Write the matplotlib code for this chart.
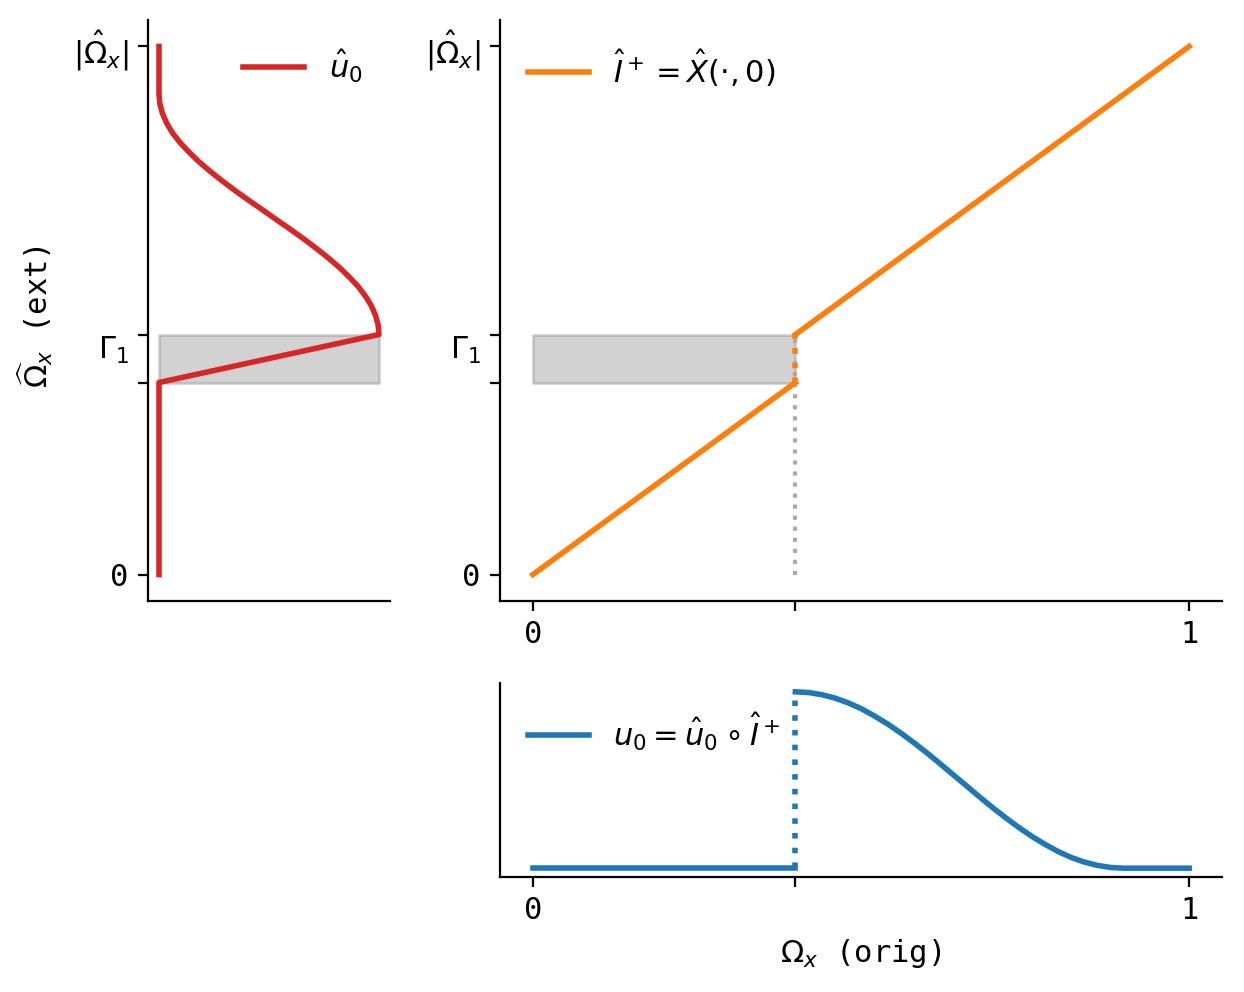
import numpy as np
import matplotlib
matplotlib.use("Agg")
import matplotlib.pyplot as plt

plt.rcParams['font.family'] = ['DejaVu Sans Mono']
plt.rcParams['font.size'] = 11
plt.rcParams['legend.fontsize'] = 11
plt.rcParams['mathtext.fontset'] = 'dejavusans'

# ---- data ----
split_orig = 0.4          # interface position in original coordinate
gap = 0.1                 # inserted extension width (Gamma_1 band)
ext_len = 1.1             # |Omega_hat_x|
orig_len = 1.0

# sampled bump of u_hat_0 on the extended coordinate (peak at Gamma_1 top)
bump_y = [0.50, 0.52, 0.54, 0.56, 0.58, 0.60, 0.62, 0.64, 0.66, 0.68, 0.70,
          0.72, 0.74, 0.76, 0.78, 0.80, 0.82, 0.84, 0.86, 0.88, 0.90, 0.92,
          0.94, 0.96, 0.98, 1.00]
bump_u = [1.000, 0.996, 0.984, 0.965, 0.938, 0.905, 0.864, 0.819, 0.768,
          0.713, 0.655, 0.594, 0.531, 0.469, 0.406, 0.345, 0.287, 0.232,
          0.181, 0.136, 0.095, 0.061, 0.035, 0.016, 0.004, 0.000]

yticks = [0, split_orig, split_orig + gap, ext_len]
yticklabels = ['0', '', r'$\Gamma_1$', r'$|\hat{\Omega}_x|$']
xticks = [0, split_orig, orig_len]
xticklabels = ['0', '', '1']

red = '#d62728'
orange = '#ff7f0e'
blue = '#1f77b4'

# u_hat_0 profile on extended coordinate
uhat_y = [0, split_orig] + bump_y + [ext_len]
uhat_u = [0, 0] + bump_u + [0]

# u0 on original coordinate: composition with I+
bump_x = [y - gap for y in bump_y]
u0_x_right = bump_x + [orig_len]
u0_right = bump_u + [0]

W, H = 1244, 992
fig = plt.figure(figsize=(W / 200, H / 200), dpi=200)

def frac(x0, y0, x1, y1):
    return [x0 / W, 1 - y1 / H, (x1 - x0) / W, (y1 - y0) / H]

axL = fig.add_axes(frac(148, 20, 390, 601))
axR = fig.add_axes(frac(500, 20, 1222, 601))
axB = fig.add_axes(frac(500, 683, 1222, 877))

for ax in (axL, axR, axB):
    ax.spines['top'].set_visible(False)
    ax.spines['right'].set_visible(False)

def style_yticks(ax):
    ax.set_yticks(yticks)
    ax.set_yticklabels(yticklabels)
    ax.get_yticklabels()[2].set_verticalalignment('top')

# Left: u_hat_0
axL.fill_betweenx([split_orig, split_orig + gap], 0, 1, color='gray', alpha=0.35)
axL.plot(uhat_u, uhat_y, color=red, lw=2, label=r'$\hat{u}_0$')
axL.set_xticks([])
style_yticks(axL)
axL.set_ylabel(r'$\widehat{\Omega}_x$ (ext)')
axL.yaxis.set_label_coords(-0.385, 0.489)
axL.legend(loc='upper right', frameon=False)

# Right: I+
axR.fill_between([0, split_orig], split_orig, split_orig + gap, color='gray', alpha=0.35)
axR.plot([split_orig, split_orig], [0, split_orig + gap], color='darkgray', lw=1.5, ls=':')
axR.plot([0, split_orig], [0, split_orig], color=orange, lw=2,
         label=r'$\hat{I}^+ = \hat{X}(\cdot, 0)$')
axR.plot([split_orig, orig_len], [split_orig + gap, ext_len], color=orange, lw=2)
axR.plot([split_orig, split_orig], [split_orig, split_orig + gap], color=orange, lw=2, ls=':')
axR.set_xticks(xticks)
axR.set_xticklabels(xticklabels)
style_yticks(axR)
axR.legend(loc='upper left', frameon=False)

# Bottom: u0
axB.plot([0, split_orig], [0, 0], color=blue, lw=2,
         label=r'$u_0 = \hat{u}_0 \circ \hat{I}^+$')
axB.plot([split_orig, split_orig], [0, 1], color=blue, lw=2, ls=':')
axB.plot(u0_x_right, u0_right, color=blue, lw=2)
axB.set_xticks(xticks)
axB.set_xticklabels(xticklabels)
axB.set_yticks([])
axB.set_xlabel(r'$\Omega_x$ (orig)')
axB.legend(loc='upper left', frameon=False)

fig.savefig('out.png', dpi=200)
